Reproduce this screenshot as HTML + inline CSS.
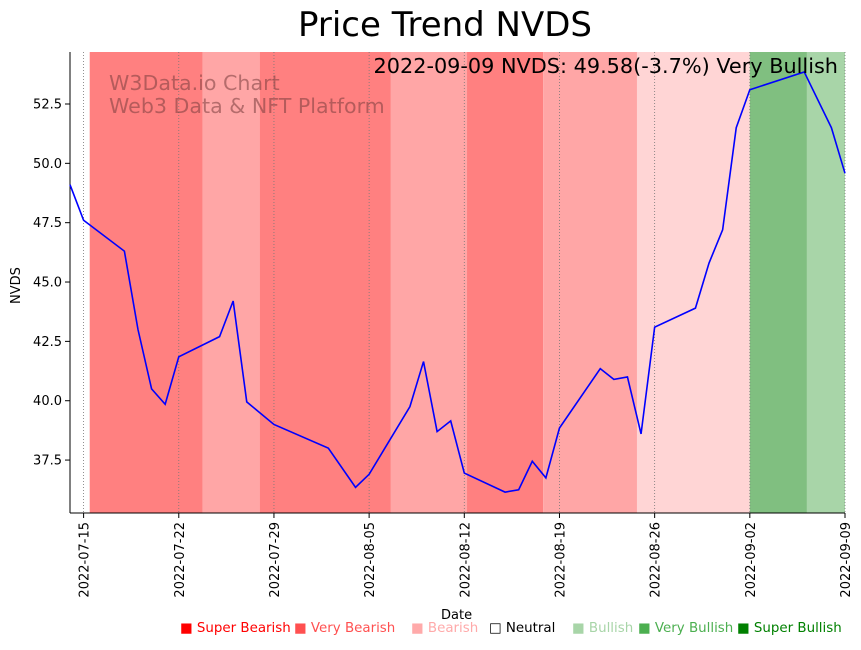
<!DOCTYPE html>
<html><head><meta charset="utf-8"><style>
body{margin:0;background:#fff;font-family:"DejaVu Sans","Liberation Sans",sans-serif}
</style></head><body>
<svg id="c" width="861" height="646" xmlns="http://www.w3.org/2000/svg" font-family="DejaVu Sans, Liberation Sans, sans-serif"></svg>
<script>
const dayOffsets=[0,1,4,5,6,7,8,11,12,13,15,19,21,22,25,26,27,28,29,32,33,34,35,36,39,40,41,42,43,46,47,48,49,50,54,56,57];
const prices=[49.1,47.6,46.3,43.0,40.5,39.85,41.85,42.7,44.2,39.95,39.0,38.0,36.35,36.9,39.75,41.65,38.7,39.15,36.95,36.15,36.25,37.45,36.75,38.85,41.35,40.9,41.0,38.6,43.1,43.9,45.8,47.2,51.5,53.1,53.85,51.5,49.58];
const bandStarts=[1.45,9.75,13.95,23.6,29.2,34.8,41.7,50.0,54.2];
const bandEnds=[9.75,13.95,23.6,29.2,34.8,41.7,50.0,54.2,57];
const bandColors=["#ff8080","#ffa6a6","#ff8080","#ffa6a6","#ff8080","#ffa6a6","#ffd5d5","#80bf80","#a8d5a8"];
const xTickDays=[1,8,15,22,29,36,43,50,57];
const xTickLabels=["2022-07-15","2022-07-22","2022-07-29","2022-08-05","2022-08-12","2022-08-19","2022-08-26","2022-09-02","2022-09-09"];
const yTicks=[37.5,40.0,42.5,45.0,47.5,50.0,52.5];
const L=70,R=845,T=52,B=513,D0=0,D1=57,Y0=35.27,Y1=54.69;
const xs=d=>L+(d-D0)/(D1-D0)*(R-L);
const ys=v=>B-(v-Y0)/(Y1-Y0)*(B-T);
const svg=document.getElementById('c');
const NS="http://www.w3.org/2000/svg";
function mk(t,a,txt){const e=document.createElementNS(NS,t);for(const k in a)e.setAttribute(k,a[k]);if(txt!==undefined)e.textContent=txt;svg.appendChild(e);return e;}
bandStarts.forEach((s,i)=>{const e=mk('rect',{x:xs(s),y:T,width:xs(bandEnds[i])-xs(s),height:B-T,fill:bandColors[i]});

});
xTickDays.forEach((d,i)=>{const x=xs(d);
const g=mk('line',{x1:x,x2:x,y1:T,y2:B,stroke:'#777','stroke-width':0.8,'stroke-dasharray':'1,2'});


mk('line',{x1:x,x2:x,y1:B,y2:B+5,stroke:'#000'});
const t=mk('text',{x:0,y:0,'font-size':13,'text-anchor':'end',transform:`translate(${x+5},${B+9}) rotate(-90)`},xTickLabels[i]);

});
yTicks.forEach(v=>{const y=ys(v);
mk('line',{x1:L-5,x2:L,y1:y,y2:y,stroke:'#000'});
const t=mk('text',{x:L-8,y:y+4.5,'font-size':13,'text-anchor':'end'},v.toFixed(1));

});
mk('line',{x1:L,x2:L,y1:T,y2:B,stroke:'#000'});
mk('line',{x1:L,x2:R,y1:B,y2:B,stroke:'#000'});
const line=mk('polyline',{points:dayOffsets.map((d,i)=>xs(d)+','+ys(prices[i])).join(' '),fill:'none',stroke:'#0000ff','stroke-width':1.6});


</script>
<div style="position:absolute;left:0;top:0;width:861px;height:646px;pointer-events:none">
<div style="position:absolute;left:0;width:890px;top:5px;text-align:center;font-size:34px">Price Trend NVDS</div>
<div style="position:absolute;left:109px;top:72px;font-size:20.6px;color:rgba(120,60,60,0.55);line-height:23px">W3Data.io Chart<br>Web3 Data &amp; NFT Platform</div>
<div style="position:absolute;right:23px;top:54px;font-size:20.8px">2022-09-09 NVDS: 49.58(-3.7%) Very Bullish</div>
<div style="position:absolute;left:9px;font-size:13px;transform:rotate(-90deg);transform-origin:left top;top:304px">NVDS</div>
<div style="position:absolute;left:441px;top:608px;font-size:13px">Date</div>
<div style="position:absolute;top:621px;left:0;font-size:13.4px;white-space:nowrap">
<span style="position:absolute;left:180px;color:#f00">■ Super Bearish</span>
<span style="position:absolute;left:294px;color:#ff5050">■ Very Bearish</span>
<span style="position:absolute;left:411px;color:#ffaaaa">■ Bearish</span>
<span style="position:absolute;left:489px;color:#000">□ Neutral</span>
<span style="position:absolute;left:572px;color:#a8d5a8">■ Bullish</span>
<span style="position:absolute;left:638px;color:#4caf50">■ Very Bullish</span>
<span style="position:absolute;left:737px;color:#008000">■ Super Bullish</span>
</div></div>
</body></html>
